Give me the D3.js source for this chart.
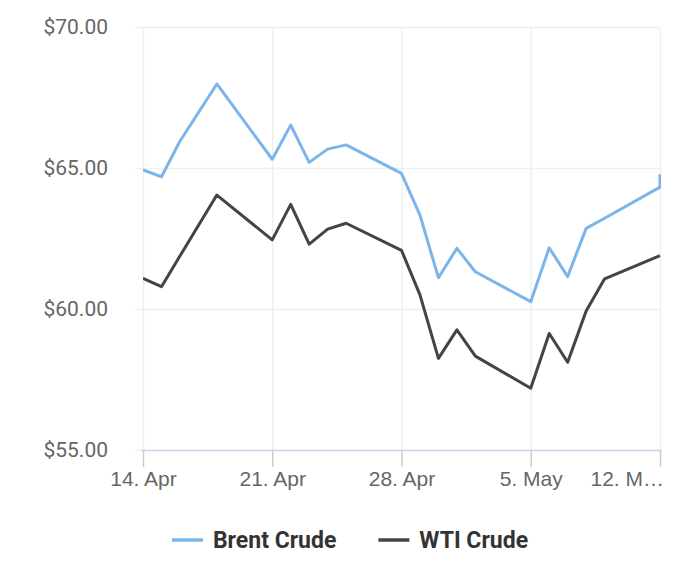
<!DOCTYPE html>
<html>
<head>
<meta charset="utf-8">
<script src="https://cdn.jsdelivr.net/npm/d3@7"></script>
<style>
    body { margin: 0; background: #fff; }
    svg { font-family: Roboto, "Noto Sans", sans-serif; }
    .grid line { stroke: #f0f0f0; stroke-width: 1.5; }
    .grid path { display: none; }
    .line { fill: none; stroke-width: 3; stroke-linejoin: round; }
</style>
</head>
<body>
<svg id="chart"></svg>
<script>

const dates = ["2025-04-14", "2025-04-15", "2025-04-16", "2025-04-18", "2025-04-21", "2025-04-22",
    "2025-04-23", "2025-04-24", "2025-04-25", "2025-04-28", "2025-04-29", "2025-04-30",
    "2025-05-01", "2025-05-02", "2025-05-05", "2025-05-06", "2025-05-07", "2025-05-08",
    "2025-05-09", "2025-05-12", "2025-05-12"];

const brent = [64.93, 64.69, 65.95, 67.98, 65.31, 66.52, 65.20, 65.67, 65.82, 64.81, 63.33, 61.11,
    62.15, 61.32, 60.26, 62.17, 61.15, 62.86, 63.22, 64.32, 64.78];

const wti = [61.09, 60.79, 61.88, 64.04, 62.45, 63.71, 62.30, 62.83, 63.04, 62.08, 60.50, 58.25,
    59.26, 58.33, 57.19, 59.13, 58.11, 59.93, 61.07, 61.89, 61.89];

const yTicks = [55, 60, 65, 70];
const xTicks = ["2025-04-14", "2025-04-21", "2025-04-28", "2025-05-05", "2025-05-12"];

const seriesNames = ["Brent Crude", "WTI Crude"];
const seriesColors = ["#7cb5ec", "#434348"];

let svgWidth = 700;
let svgHeight = 565;
let margin = {top: 27, right: 40, bottom: 115, left: 143};
let chartWidth = svgWidth - margin.left - margin.right;
let chartHeight = svgHeight - margin.top - margin.bottom;

const parse = d3.utcParse("%Y-%m-%d");
const monthNames = ["Jan", "Feb", "Mar", "Apr", "May", "Jun", "Jul", "Aug", "Sep", "Oct", "Nov", "Dec"];

let xScale = d3.scaleUtc()
    .domain([parse(xTicks[0]), parse(xTicks[xTicks.length - 1])])
    .range([0, chartWidth]);
let yScale = d3.scaleLinear().domain([55, 70]).range([chartHeight, 0]);

let svg = d3.select("#chart")
    .attr("width", svgWidth)
    .attr("height", svgHeight)
    .append("g")
    .attr("transform", "translate(" + margin.left + "," + margin.top + ")");

svg.append("defs").append("clipPath")
    .attr("id", "plot-clip")
    .append("rect")
    .attr("x", 0).attr("y", -5)
    .attr("width", chartWidth + 1).attr("height", chartHeight + 10);

// vertical grid
svg.append("g")
    .attr("class", "grid")
    .call(d3.axisBottom(xScale).tickValues(xTicks.map(parse)).tickSize(chartHeight).tickFormat(""));

// horizontal grid
svg.append("g")
    .attr("class", "grid")
    .call(d3.axisLeft(yScale).tickValues(yTicks).tickSize(-chartWidth).tickFormat(""))
    .call(g => g.selectAll("line").attr("x1", -8));

// y labels
svg.append("g")
    .selectAll("text")
    .data(yTicks)
    .join("text")
    .attr("x", -35)
    .attr("y", d => yScale(d))
    .attr("dy", "0.35em")
    .attr("text-anchor", "end")
    .attr("fill", "#666")
    .style("font-size", "21px")
    .text(d => "$" + d.toFixed(2));

// x axis
let xAxis = svg.append("g")
    .attr("transform", "translate(0," + chartHeight + ")")
    .call(d3.axisBottom(xScale)
        .tickValues(xTicks.map(parse))
        .tickSize(17)
        .tickPadding(4)
        .tickFormat(d => d.getUTCDate() + ". " + monthNames[d.getUTCMonth()]));

xAxis.select(".domain").attr("stroke", "#ccd6eb").attr("stroke-width", 1.5)
    .attr("d", "M-2,0.5H" + (chartWidth + 2));
xAxis.selectAll(".tick line").attr("stroke", "#ccc").attr("stroke-width", 1.5);
xAxis.selectAll(".tick text")
    .attr("fill", "#666")
    .style("font-size", "21px")
    .each(function() {
        // labels running past the right edge get cut with an ellipsis
        let t = d3.select(this);
        let tick = d3.select(this.parentNode);
        let tx = +tick.attr("transform").match(/translate\(([-\d.]+)/)[1];
        let full = t.text();
        let rightEdge = chartWidth + 4 - tx;
        if (this.getComputedTextLength() / 2 > rightEdge) {
            let n = full.length - 1;
            while (n > 1) {
                t.text(full.slice(0, n) + "…");
                if (this.getComputedTextLength() <= 74) break;
                n--;
            }
            t.attr("text-anchor", "end").attr("x", rightEdge);
        }
    });

// lines
let line = d3.line()
    .x((d, i) => xScale(parse(dates[i])))
    .y(d => yScale(d));

let plot = svg.append("g").attr("clip-path", "url(#plot-clip)");

[brent, wti].forEach((vals, k) => {
    plot.append("path")
        .attr("class", "line")
        .attr("stroke", seriesColors[k])
        .datum(vals)
        .attr("d", line);
});

// legend
let legend = d3.select("#chart").append("g")
    .attr("transform", "translate(0,540)");

let items = legend.selectAll("g")
    .data(seriesNames)
    .join("g");

items.append("line")
    .attr("x1", 0).attr("x2", 31)
    .attr("stroke", (d, i) => seriesColors[i])
    .attr("stroke-width", 3.5);

items.append("text")
    .attr("x", 41)
    .attr("dy", "0.35em")
    .attr("fill", "#333")
    .style("font-size", "23px")
    .style("font-weight", "bold")
    .text(d => d);

let widths = [];
items.each(function() { widths.push(this.getBBox().width); });
let gap = 42;
let total = d3.sum(widths) + gap * (widths.length - 1);
let xPos = (svgWidth - total) / 2;
items.attr("transform", (d, i) => {
    let x = xPos;
    xPos += widths[i] + gap;
    return "translate(" + x + ",0)";
});

</script>
</body>
</html>
